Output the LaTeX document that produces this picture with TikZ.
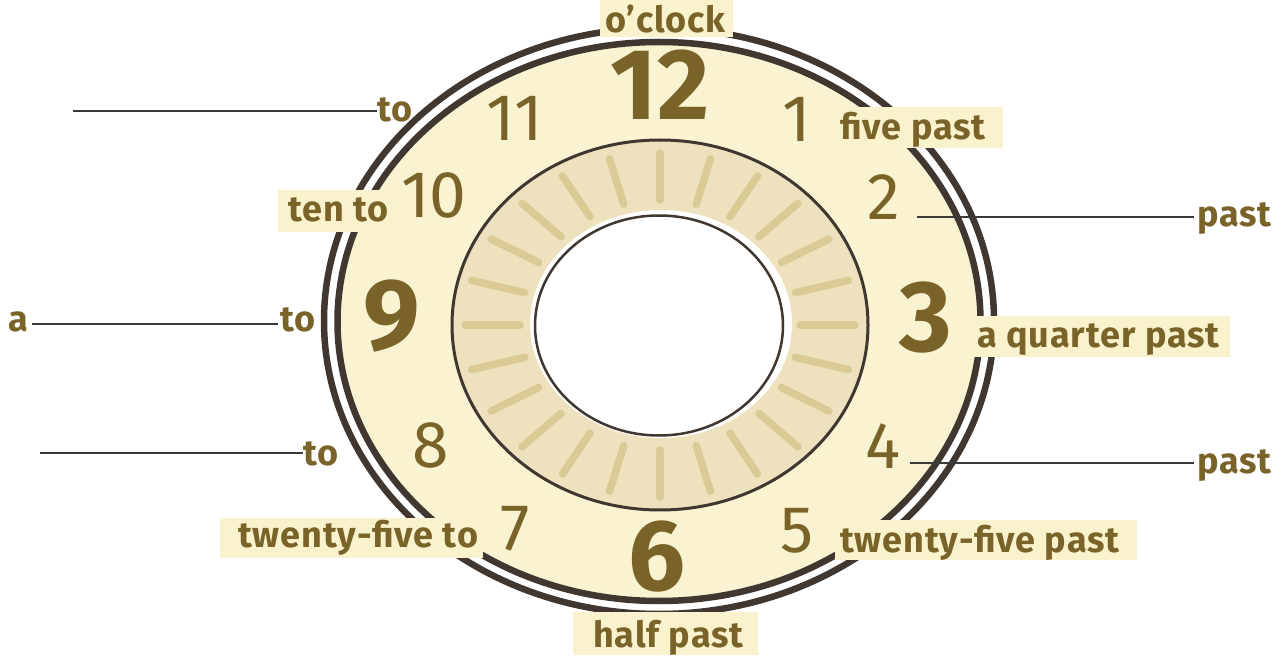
\documentclass[tikz,border=0pt]{standalone}
\usepackage{fontspec}
\setmainfont{Fira Sans}[Numbers=Proportional]
\newfontfamily\lblfont{Fira Sans}[LetterSpace=2.5]
\usetikzlibrary{calc}
\definecolor{face}{HTML}{FAF3D1}
\definecolor{boxc}{HTML}{FAF2CD}
\definecolor{band}{HTML}{EDE2BD}
\definecolor{tickc}{HTML}{DACB96}
\definecolor{ringc}{HTML}{403730}
\definecolor{txt}{HTML}{7A6329}
\definecolor{linec}{HTML}{3C3A38}
\begin{document}
\begin{tikzpicture}[x=1pt,y=-1pt,
  lbl/.style={anchor=base west, inner sep=0pt, text=txt, font=\fontsize{36}{36}\lblfont\bfseries},
  num/.style={anchor=base, inner sep=0pt, text=txt, font=\fontsize{66}{66}\selectfont},
  bignum/.style={anchor=base, inner sep=0pt, text=txt, font=\fontsize{101}{101}\selectfont\bfseries},
  ring/.style={draw=ringc, line width=6.5pt},
  lbox/.style={fill=boxc, draw=none},
  blank/.style={draw=linec, line width=1.8pt},
  tickline/.style={draw=tickc, line width=7.5pt, line cap=round}]
\useasboundingbox (0,0) rectangle (1286,660);
\fill[white] (0,0) rectangle (1286,660);
% clock face and rim
\fill[face] (659,321.5) ellipse [x radius=321.5pt, y radius=279.5pt];
\draw[ring] (659,321.5) ellipse [x radius=321.5pt, y radius=279.5pt];
\draw[ring] (659,321) ellipse [x radius=335pt, y radius=293pt];
% minute band
\filldraw[fill=band, draw=ringc, line width=3pt] (660,325) ellipse [x radius=208pt, y radius=185pt];
\foreach \a in {0,15,...,345}
  \draw[tickline] ({660+140*cos(\a)},{325+125*sin(\a)}) -- ({660+195*cos(\a)},{325+172*sin(\a)});
\fill[white] (661,324) ellipse [x radius=131pt, y radius=114pt];
\draw[ringc, line width=2.5pt] (659,325.5) ellipse [x radius=124pt, y radius=110pt];
% label boxes
\fill[lbox] (600,0) rectangle (733,37);
\fill[lbox] (835,107) rectangle (1003,148);
\fill[lbox] (278,190) rectangle (398,232);
\fill[lbox] (963,316) rectangle (1230,357);
\fill[lbox] (220,518) rectangle (483,558);
\fill[lbox] (835,520) rectangle (1137,560);
\fill[lbox] (573,612) rectangle (758,655);
% numbers
\node[bignum] (n12) at (660,120) {12};
\node[num] (n11) at (515,141) {11};
\node[num] (n1) at (797,142) {1};
\node[num] (n10) at (434,218) {10};
\node[num] (n2) at (884,220) {2};
\node[bignum] (n9) at (392,350) {9};
\node[bignum] (n3) at (926,352) {3};
\node[num] (n8) at (431,467) {8};
\node[num] (n4) at (883,468) {4};
\node[num] (n7) at (515,550) {7};
\node[bignum] (n6) at (657,590) {6};
\node[num] (n5) at (797,552) {5};
% labels
\node[lbl] (oclock) at (605,33) {o’clock};
\node[lbl] (fivepast) at (840,140) {five past};
\node[lbl] (tento) at (288,222) {ten to};
\node[lbl] (to11) at (377,122) {to};
\node[lbl] (past2) at (1197,227) {past};
\node[lbl] (a9) at (8,332) {a};
\node[lbl] (to9) at (280,332) {to};
\node[lbl] (quarter) at (977,348) {a quarter past};
\node[lbl] (to8) at (303,465) {to};
\node[lbl] (past4) at (1197,473) {past};
\node[lbl] (tfto) at (238,547) {twenty-five to};
\node[lbl] (tfpast) at (840,552) {twenty-five past};
\node[lbl] (halfpast) at (593,647) {half past};
% blank lines
\coordinate (b11) at (73,111);
\coordinate (b8) at (40,453);
\coordinate (b2) at (917,217);
\coordinate (b4) at (910,463);
\draw[blank] (b11) -- (b11 -| to11.west);
\draw[blank] ([xshift=4pt]a9.east |- 0,324) -- ([xshift=-2pt]to9.west |- 0,324);
\draw[blank] (b8) -- (b8 -| to8.west);
\draw[blank] (b2) -- ([xshift=-3pt]b2 -| past2.west);
\draw[blank] (b4) -- ([xshift=-3pt]b4 -| past4.west);
\end{tikzpicture}
\end{document}
